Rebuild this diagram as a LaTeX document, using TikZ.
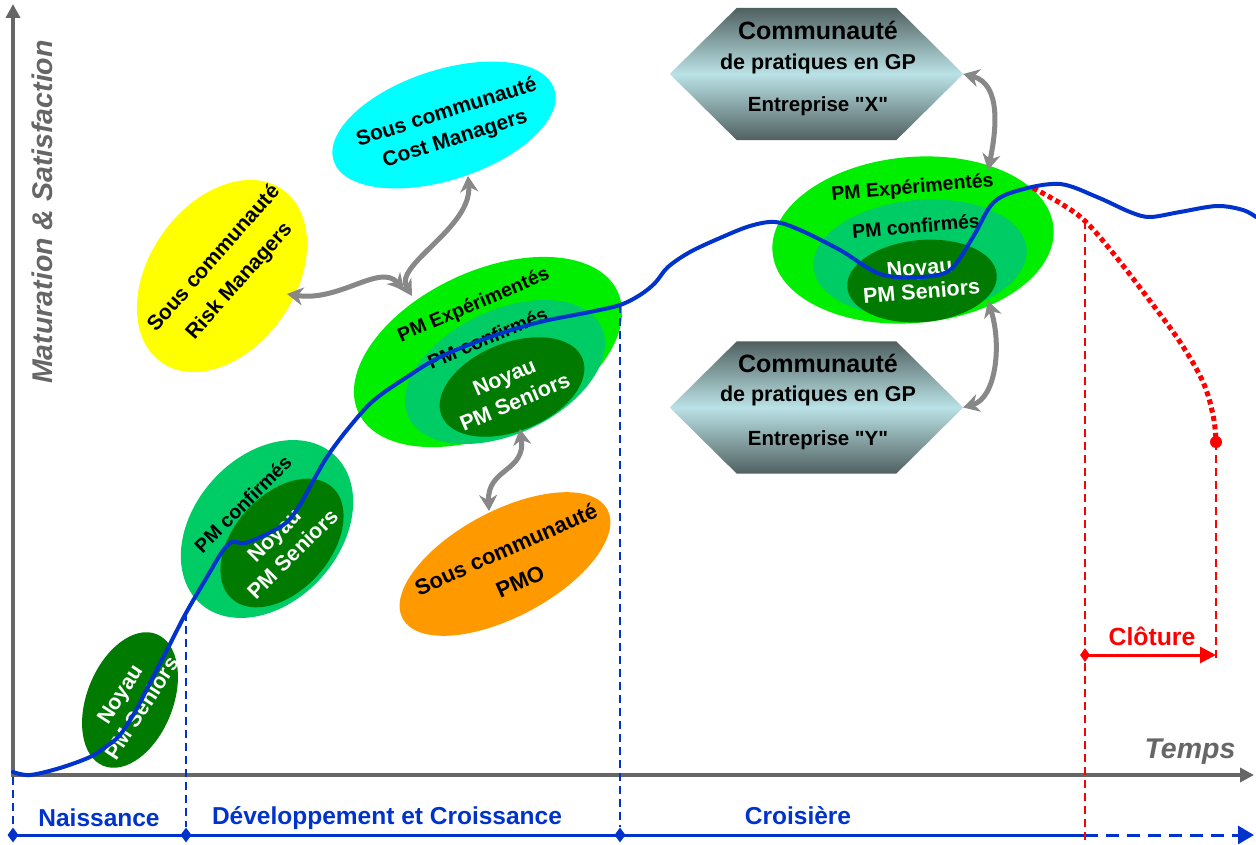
\documentclass[tikz,border=0pt]{standalone}
\usepackage{fontspec}
\setmainfont{Liberation Sans}
\usetikzlibrary{shapes.geometric,arrows.meta,calc}
\newcommand{\myfs}[2]{\fontsize{#1}{#2}\selectfont}
\definecolor{axisgray}{RGB}{102,102,102}
\definecolor{curveblue}{RGB}{0,51,204}
\definecolor{phaseblue}{RGB}{0,51,204}
\definecolor{brightgreen}{RGB}{0,238,0}
\definecolor{midgreen}{RGB}{0,204,102}
\definecolor{darkgreen}{RGB}{0,122,0}
\definecolor{cyanfill}{RGB}{0,255,255}
\definecolor{yellowfill}{RGB}{255,255,0}
\definecolor{orangefill}{RGB}{255,153,0}
\definecolor{arrowgray}{RGB}{136,136,136}
\definecolor{hexdark}{RGB}{80,96,96}
\definecolor{hexlight}{RGB}{186,226,230}
\definecolor{redline}{RGB}{255,0,0}
\tikzset{
  blob/.style={ellipse, inner sep=0pt, draw=none},
  grouptxt/.style={inner sep=0pt, text=black, align=center, font=\bfseries\myfs{20}{26}},
  wlbl/.style={inner sep=0pt, text=white, align=center, font=\bfseries\myfs{21.5}{26}},
  soustxt/.style={inner sep=0pt, text=black, align=center},
  hextxt/.style={inner sep=0pt, text=black, align=center},
  hexframe/.style={rectangle, inner sep=0pt, draw=none, minimum width=293pt, minimum height=132pt},
  hexshade/.style={top color=hexdark, bottom color=hexdark, middle color=hexlight},
  axisline/.style={draw=axisgray, line width=4pt, -{Triangle[length=14pt,width=14pt]}},
  axislbl/.style={inner sep=0pt, text=axisgray, font=\bfseries\itshape\myfs{28.5}{32}},
  phaselbl/.style={inner sep=0pt, text=phaseblue, font=\bfseries\myfs{24.5}{28}},
  phaseline/.style={draw=phaseblue, line width=3pt},
  vdash/.style={draw=phaseblue, line width=2.6pt, dash pattern=on 8pt off 5pt},
  pdiamond/.style={diamond, fill=phaseblue, inner sep=0pt, minimum width=11pt, minimum height=15pt},
  curve/.style={draw=curveblue, line width=4pt, line cap=round, line join=round},
  garrow/.style={draw=arrowgray, line width=5pt, arrows={Stealth[length=16pt,width=18pt]-Stealth[length=16pt,width=18pt]}},
  rdash/.style={draw=redline, line width=2.6pt, dash pattern=on 8pt off 5pt},
  rdots/.style={draw=redline, line width=5pt, dash pattern=on 5pt off 3.5pt},
}
\newcommand{\bk}[1]{{\bfseries\myfs{19.5}{26}#1}}
\newcommand{\wh}[1]{{\color{white}\bfseries\myfs{21.5}{26}#1}}
\begin{document}
\begin{tikzpicture}[x=1pt,y=-1pt]
\useasboundingbox (0,0) rectangle (1256,845);
\fill[white] (0,0) rectangle (1256,845);

% ---------- axes ----------
\coordinate (origin) at (13,777);
\coordinate (ytip) at (13,4);
\coordinate (xtip) at (1254,775);
\draw[axisline] (origin) -- (ytip);
\draw[axisline] (13,775) -- (xtip);
\node[axislbl, rotate=90] (ylab) at (42,212) {Maturation \& Satisfaction};
\node[axislbl] (xlab) at (1190,752) {Temps};

% ---------- hexagons ----------
\node[hexframe] (hexX) at (816.5,74) {};
\shade[hexshade] (hexX.west) -- ($(hexX.north west)+(67,0)$) -- ($(hexX.north east)+(-67,0)$) -- (hexX.east) -- ($(hexX.south east)+(-67,0)$) -- ($(hexX.south west)+(67,0)$) -- cycle;
\node[hextxt, font=\bfseries\myfs{25}{28}] (hexXa) at (818,30) {Communauté};
\node[hextxt, font=\bfseries\myfs{21.5}{24}] (hexXb) at (818,64) {de pratiques en GP};
\node[hextxt, font=\bfseries\myfs{20.5}{24}] (hexXc) at (818,106) {Entreprise \textquotedbl X\textquotedbl};

\node[hexframe] (hexY) at (816.5,407.5) {};
\shade[hexshade] (hexY.west) -- ($(hexY.north west)+(67,0)$) -- ($(hexY.north east)+(-67,0)$) -- (hexY.east) -- ($(hexY.south east)+(-67,0)$) -- ($(hexY.south west)+(67,0)$) -- cycle;
\node[hextxt, font=\bfseries\myfs{25}{28}] (hexYa) at (818,363) {Communauté};
\node[hextxt, font=\bfseries\myfs{21.5}{24}] (hexYb) at (818,396) {de pratiques en GP};
\node[hextxt, font=\bfseries\myfs{20.5}{24}] (hexYc) at (818,440) {Entreprise \textquotedbl Y\textquotedbl};

% ---------- sub-communities ----------
\node[blob, fill=yellowfill, minimum width=211pt, minimum height=146pt, rotate=55] (risk) at (222,276) {};
\node[soustxt, font=\bfseries\myfs{21}{34}, rotate=48.5] (riskt) at (227,270) {Sous communauté\\Risk Managers};

\node[blob, fill=cyanfill, minimum width=232pt, minimum height=110pt, rotate=18] (cost) at (444,125) {};
\node[soustxt, font=\bfseries\myfs{21}{28}, rotate=17.5] (costt) at (451,126) {Sous communauté\\Cost Managers};

\node[blob, fill=orangefill, minimum width=232pt, minimum height=106pt, rotate=28] (pmo) at (505,564) {};
\node[soustxt, font=\bfseries\myfs{22}{35}, rotate=24] (pmot) at (513,565) {Sous communauté\\PMO};

% ---------- small group (birth) ----------
\node[blob, fill=darkgreen, minimum width=142pt, minimum height=86pt, rotate=68] (n1) at (130,700) {};
\node[wlbl, rotate=57] (n1t) at (131,701) {Noyau\\PM Seniors};

% ---------- medium group ----------
\node[blob, fill=midgreen, minimum width=200pt, minimum height=146pt, rotate=48] (m2) at (267,529) {};
\node[blob, fill=darkgreen, minimum width=150pt, minimum height=96pt, rotate=48] (n2) at (282,543) {};
\node[grouptxt, rotate=45] (g2t) at (268,529) {\bk{PM confirmés}\\[19pt]\wh{Noyau}\\\wh{PM Seniors}};

% ---------- large group ----------
\node[blob, fill=brightgreen, minimum width=286pt, minimum height=162pt, rotate=25] (e3) at (488,352) {};
\node[blob, fill=midgreen, minimum width=213pt, minimum height=124pt, rotate=25] (m3) at (505,372) {};
\node[blob, fill=darkgreen, minimum width=152pt, minimum height=88pt, rotate=22] (n3) at (512,387) {};
\node[grouptxt, rotate=23] (g3t) at (494,353) {\bk{PM Expérimentés}\\[11pt]\bk{PM confirmés}\\[17pt]\wh{Noyau}\\[1pt]\wh{PM Seniors}};

% ---------- right group ----------
\node[blob, fill=brightgreen, minimum width=282pt, minimum height=166pt, rotate=5] (e4) at (913,240) {};
\node[blob, fill=midgreen, minimum width=214pt, minimum height=116pt, rotate=5] (m4) at (920,258) {};
\node[blob, fill=darkgreen, minimum width=150pt, minimum height=82pt, rotate=5] (n4) at (922,281) {};
\node[grouptxt, rotate=5] (g4t) at (917,239) {\bk{PM Expérimentés}\\[14pt]\bk{PM confirmés}\\[16pt]\wh{Noyau}\\[-2pt]\wh{PM Seniors}};

% ---------- phase line ----------
\node[pdiamond] (d0) at (13,835) {};
\node[pdiamond] (d1) at (186,835) {};
\node[pdiamond] (d2) at (620,835) {};
\coordinate (dR) at (1085,835);
\coordinate (dEnd) at (1254,835);
\draw[phaseline] (d0.center) -- (dR);
\draw[phaseline, dash pattern=on 13pt off 8pt] (dR) -- ($(dEnd)+(-14,0)$);
\draw[phaseline, -{Triangle[length=16pt,width=18pt]}] ($(dEnd)+(-15,0)$) -- (dEnd);
\coordinate (v0) at (13,777);
\coordinate (v1) at (186,613);
\coordinate (v2) at (620,305);
\draw[vdash] (v0) -- (d0);
\draw[vdash] (v1) -- (d1);
\draw[vdash] (v2) -- (d2);
\node[phaselbl] (ph1) at (99,818) {Naissance};
\node[phaselbl] (ph2) at (387,818) {Développement et Croissance};
\node[phaselbl] (ph3) at (798,816) {Croisière};

% ---------- closing (red) ----------
\coordinate (rTop) at (1085,221);
\coordinate (rBot) at (1085,845);
\draw[rdash] (rTop) -- (rBot);
\node[circle, fill=redline, inner sep=0pt, minimum size=12pt] (rdot) at (1216,442) {};
\coordinate (rEnd) at (1216,662);
\draw[rdash] (rdot.center) -- (rEnd);
\draw[rdots] plot[smooth, tension=0.6] coordinates {(1033,188) (1060,203) (1085,221) (1113,253) (1147,297) (1180,342) (1203,382) (1213,415) (1216,440)};
\node[diamond, fill=redline, inner sep=0pt, minimum width=10pt, minimum height=14pt] (cd) at (1085,655) {};
\coordinate (cEnd) at (1216,655);
\draw[draw=redline, line width=3pt, -{Triangle[length=16pt,width=16pt]}] (cd.center) -- (cEnd);
\node[inner sep=0pt, text=redline, font=\bfseries\myfs{24.8}{28}] (clot) at (1152,636) {Clôture};

% ---------- maturation curve ----------
\draw[curve] plot[smooth, tension=0.55] coordinates {
(13,772) (30,775) (60,768) (90,757) (107,746) (120,735) (135,712) (150,683) (168,648) (186,613) (207,577) (222,552) (232,542) (245,543) (267,534) (287,522) (300,505) (312,483) (327,457) (347,430) (373,401) (407,377) (440,357) (490,337) (540,322) (590,312) (620,305) (640,295) (655,283) (668,267) (690,252) (720,238) (750,226) (775,222) (800,230) (840,250) (880,274) (920,277) (950,270) (973,237) (993,203) (1020,190) (1060,184) (1097,197) (1130,212) (1150,217) (1180,212) (1217,206) (1243,210) (1256,217)};

% ---------- gray connectors ----------
\coordinate (costEnd) at (468,176);
\coordinate (bigEnd) at (412,296);
\coordinate (riskStart) at (404,290);
\coordinate (riskEnd) at (287,294);
\coordinate (pmoStart) at (520,429);
\coordinate (pmoEnd) at (489,511);
\coordinate (rgTop) at (988,170);
\coordinate (rgBot) at (988,301);
\draw[garrow] (bigEnd) .. controls (393,265) and (472,228) .. (costEnd);
\draw[garrow] (riskStart) .. controls (380,263) and (340,302) .. (riskEnd);
\draw[garrow] (pmoStart) .. controls (526,472) and (487,468) .. (pmoEnd);
\draw[garrow] (hexX.east) .. controls (1002,84) and (996,132) .. (rgTop);
\draw[garrow] (rgBot) .. controls (1002,345) and (996,398) .. (hexY.east);
\end{tikzpicture}
\end{document}
